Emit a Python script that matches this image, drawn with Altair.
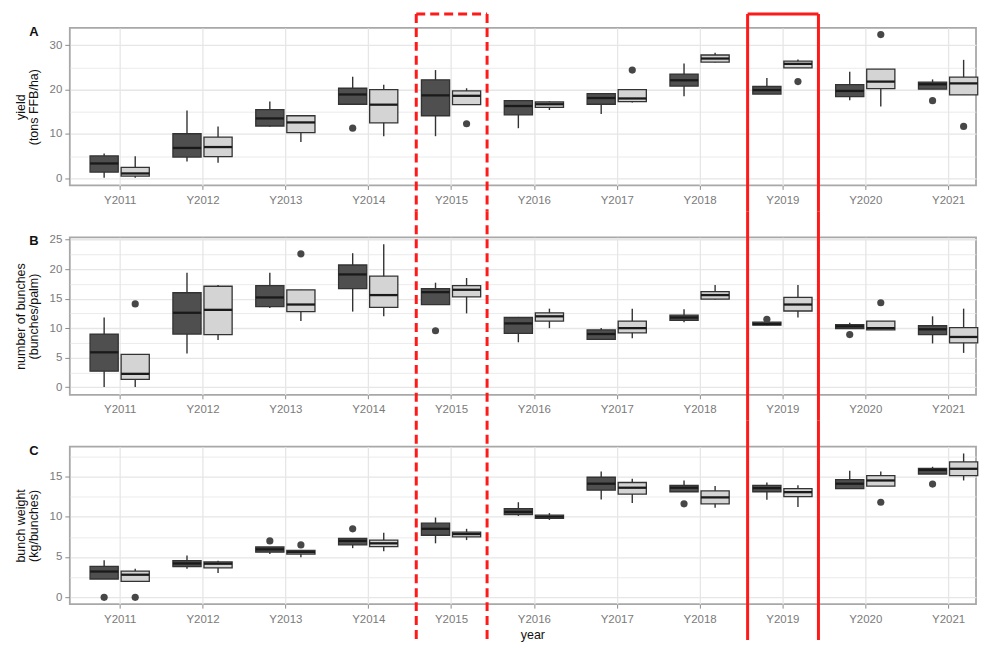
import altair as alt
import pandas as pd

years = ["Y2011", "Y2012", "Y2013", "Y2014", "Y2015", "Y2016",
         "Y2017", "Y2018", "Y2019", "Y2020", "Y2021"]
groups = ["dark", "light"]

# ---------------- Panel A: yield (tons FFB/ha) ----------------
yield_dark_lo = [0.15, 3.8, 11.6, 16.7, 9.5, 11.3, 14.5, 18.5, 19.0, 17.6, 20.1]
yield_dark_q1 = [1.4, 4.8, 11.8, 16.7, 14.1, 14.3, 16.7, 20.8, 19.0, 18.4, 20.1]
yield_dark_med = [3.35, 6.85, 13.5, 18.9, 18.7, 16.3, 18.1, 22.1, 19.9, 19.7, 21.2]
yield_dark_q3 = [5.05, 10.05, 15.5, 20.3, 22.2, 17.5, 19.1, 23.5, 20.7, 21.1, 21.7]
yield_dark_hi = [5.6, 15.3, 17.3, 22.9, 24.4, 17.5, 19.1, 25.9, 22.6, 24.0, 22.3]
yield_light_lo = [0.15, 3.5, 8.2, 9.5, 16.6, 15.4, 17.1, 26.1, 24.9, 16.2, 18.8]
yield_light_q1 = [0.5, 4.9, 10.3, 12.5, 16.6, 16.0, 17.3, 26.2, 24.9, 20.2, 18.8]
yield_light_med = [1.1, 7.05, 12.6, 16.6, 18.6, 16.7, 18.0, 27.0, 25.8, 21.8, 21.4]
yield_light_q3 = [2.45, 9.3, 14.1, 20.0, 19.7, 17.2, 20.0, 27.8, 26.4, 24.6, 22.8]
yield_light_hi = [5.0, 11.7, 14.1, 21.1, 20.3, 17.35, 20.0, 28.3, 26.8, 24.6, 26.7]
yield_out_year = ["Y2014", "Y2015", "Y2017", "Y2019", "Y2020", "Y2021", "Y2021"]
yield_out_grp = ["dark", "light", "light", "light", "light", "dark", "light"]
yield_out_val = [11.3, 12.3, 24.4, 21.8, 32.4, 17.5, 11.7]

# ---------------- Panel B: number of bunches ----------------
bunch_dark_lo = [0.0, 5.7, 13.4, 12.8, 14.0, 7.6, 8.1, 11.0, 10.5, 9.9, 7.4]
bunch_dark_q1 = [2.7, 9.0, 13.65, 16.7, 14.0, 9.1, 8.1, 11.3, 10.5, 9.9, 8.9]
bunch_dark_med = [5.9, 12.6, 15.2, 19.1, 16.1, 10.8, 9.0, 11.8, 10.7, 10.3, 9.8]
bunch_dark_q3 = [9.0, 16.0, 17.2, 20.7, 16.7, 11.8, 9.7, 12.2, 11.0, 10.6, 10.4]
bunch_dark_hi = [11.8, 19.4, 19.4, 22.7, 17.7, 11.9, 10.0, 13.2, 11.0, 10.9, 12.0]
bunch_light_lo = [0.0, 8.0, 11.2, 12.0, 12.5, 10.0, 8.3, 14.8, 11.8, 9.7, 5.8]
bunch_light_q1 = [1.3, 8.9, 12.8, 13.5, 15.3, 11.2, 9.2, 14.9, 12.9, 9.7, 7.5]
bunch_light_med = [2.25, 13.1, 14.0, 15.6, 16.5, 12.0, 10.0, 15.6, 14.0, 10.0, 8.5]
bunch_light_q3 = [5.56, 17.1, 16.5, 18.8, 17.2, 12.6, 11.2, 16.2, 15.2, 11.2, 10.1]
bunch_light_hi = [5.56, 17.3, 16.5, 24.2, 18.5, 13.3, 13.3, 17.3, 17.3, 11.2, 13.3]
bunch_out_year = ["Y2011", "Y2013", "Y2015", "Y2019", "Y2020", "Y2020"]
bunch_out_grp = ["light", "light", "dark", "dark", "dark", "light"]
bunch_out_val = [14.1, 22.6, 9.55, 11.5, 8.9, 14.3]

# ---------------- Panel C: bunch weight ----------------
bw_dark_lo = [2.27, 3.55, 5.37, 6.1, 6.7, 10.1, 12.15, 13.1, 12.1, 13.5, 15.3]
bw_dark_q1 = [2.27, 3.8, 5.6, 6.5, 7.7, 10.25, 13.3, 13.1, 13.1, 13.5, 15.3]
bw_dark_med = [3.2, 4.2, 5.95, 7.0, 8.5, 10.6, 14.1, 13.6, 13.55, 14.1, 15.8]
bw_dark_q3 = [3.84, 4.55, 6.24, 7.3, 9.2, 11.0, 14.9, 13.9, 13.9, 14.6, 16.0]
bw_dark_hi = [4.6, 5.2, 6.24, 7.3, 9.9, 11.8, 15.6, 14.5, 14.25, 15.7, 16.2]
bw_light_lo = [1.98, 3.0, 4.96, 5.7, 7.1, 9.6, 11.7, 11.1, 11.2, 13.8, 14.5]
bw_light_q1 = [1.98, 3.64, 5.37, 6.3, 7.5, 9.8, 12.8, 11.6, 12.5, 13.8, 15.1]
bw_light_med = [2.8, 4.17, 5.6, 6.7, 7.85, 10.0, 13.6, 12.4, 13.05, 14.5, 15.95]
bw_light_q3 = [3.26, 4.38, 5.83, 7.1, 8.1, 10.2, 14.25, 13.2, 13.5, 15.1, 16.8]
bw_light_hi = [3.55, 4.55, 5.83, 8.0, 8.5, 10.45, 14.7, 13.8, 13.9, 15.6, 17.85]
bw_out_year = ["Y2011", "Y2011", "Y2013", "Y2013", "Y2014", "Y2018", "Y2020", "Y2021"]
bw_out_grp = ["dark", "light", "dark", "light", "dark", "dark", "light", "dark"]
bw_out_val = [0.0, 0.0, 7.0, 6.5, 8.5, 11.6, 11.8, 14.05]

# highlighted years
hl_years = ["Y2015", "Y2019"]
hl_style = ["dashed", "solid"]

# axis tick values (major labelled, minor = grid only)
yA_major = [0, 10, 20, 30]
yA_minor = [5, 15, 25]
yB_major = [0, 5, 10, 15, 20, 25]
yB_minor = [2.5, 7.5, 12.5, 17.5, 22.5]
yC_major = [0, 5, 10, 15]
yC_minor = [2.5, 7.5, 12.5, 17.5]

FONT = "Liberation Sans"
W, H = 909, 158
X_DOMAIN = [0.398, 11.337]
DARK_FILL, LIGHT_FILL = "#4f4f4f", "#d4d4d4"
LINE = "#333333"
RED = "#ff1a1a"


def stats_df(d):
    rows = []
    for g, (lo, q1, med, q3, hi) in d.items():
        for i, y in enumerate(years):
            rows.append(dict(year=y, idx=i + 1, grp=g, lo=lo[i], q1=q1[i],
                             med=med[i], q3=q3[i], hi=hi[i]))
    return pd.DataFrame(rows)


def out_df(yrs, grps, vals):
    return pd.DataFrame(dict(year=yrs, idx=[years.index(y) + 1 for y in yrs],
                             grp=grps, val=vals))


label_expr = "[" + ",".join("'%s'" % y for y in years) + "][datum.value - 1]"


def panel(stats, outs, letter, ytitle, ydomain, ymajor, yminor, xtitle, red_top, red_bottom, draw_top):
    xs = alt.Scale(domain=X_DOMAIN, nice=False, zero=False)
    ys = alt.Scale(domain=ydomain, nice=False, zero=False)
    major_list = "[" + ",".join(str(v) for v in ymajor) + "]"
    test = "indexof(%s, datum.value) >= 0" % major_list
    yaxis = alt.Axis(
        values=sorted(ymajor + yminor), title=ytitle,
        labelExpr="(%s) ? datum.label : ''" % test,
        labelOverlap=False,
        tickOpacity={"condition": {"test": test, "value": 1}, "value": 0},
        gridWidth={"condition": {"test": test, "value": 1.3}, "value": 0.8},
        tickSize=5, labelPadding=3, titlePadding=9,
    )
    xaxis_kwargs = dict(values=list(range(1, 12)), labelExpr=label_expr, labelOverlap=False,
                        tickSize=4, labelPadding=5, gridWidth=1.3)
    if xtitle:
        xaxis = alt.Axis(title=xtitle, titleX=464, titlePadding=4, **xaxis_kwargs)
    else:
        xaxis = alt.Axis(title=None, **xaxis_kwargs)

    X = lambda f: alt.X(f, scale=xs, axis=xaxis)
    Y = lambda f: alt.Y(f, scale=ys, axis=yaxis)

    base = alt.Chart(stats).transform_calculate(
        xc="datum.idx + (datum.grp === 'dark' ? -0.1875 : 0.1875)"
    ).transform_calculate(
        xl="datum.xc - 0.17", xr="datum.xc + 0.17"
    )
    fill = alt.Color("grp:N", scale=alt.Scale(domain=groups, range=[DARK_FILL, LIGHT_FILL]), legend=None)

    whisk = base.mark_rule(color=LINE, strokeWidth=1.4).encode(
        x=X("xc:Q"), y=Y("lo:Q"), y2="hi:Q",
    )
    box = base.mark_rect(stroke=LINE, strokeWidth=1.3).encode(
        x=X("xl:Q"), x2="xr:Q", y=Y("q1:Q"), y2="q3:Q", fill=fill,
    )
    med = base.mark_rule(color="#1a1a1a", strokeWidth=2.3).encode(
        x=X("xl:Q"), x2="xr:Q", y=Y("med:Q"),
    )
    pts = alt.Chart(outs).transform_calculate(
        xc="datum.idx + (datum.grp === 'dark' ? -0.1875 : 0.1875)"
    ).mark_circle(size=52, color="#474747", opacity=1).encode(
        x=X("xc:Q"), y=Y("val:Q"),
    )
    lab = alt.Chart(pd.DataFrame({"letter": [letter]})).mark_text(
        font=FONT, fontWeight="bold", fontSize=13, color="#111111", align="center", baseline="middle"
    ).encode(text="letter:N", x=alt.value(-36), y=alt.value(4))

    hl = alt.Chart(pd.DataFrame({"year": hl_years, "style": hl_style,
                                 "idx": [years.index(y) + 1 for y in hl_years]})).transform_calculate(
        hl_l="datum.idx - 0.42", hl_r="datum.idx + 0.435"
    )
    dash = alt.StrokeDash("style:N", scale=alt.Scale(domain=["dashed", "solid"], range=[[9, 5], [1, 0]]), legend=None)
    left = hl.mark_rule(color=RED, strokeWidth=3).encode(
        x=X("hl_l:Q"), y=alt.value(red_top), y2=alt.value(red_bottom), strokeDash=dash)
    right = hl.mark_rule(color=RED, strokeWidth=3).encode(
        x=X("hl_r:Q"), y=alt.value(red_top), y2=alt.value(red_bottom), strokeDash=dash)
    layers = [whisk, box, med, pts, lab, left, right]
    if draw_top:
        top = hl.mark_rule(color=RED, strokeWidth=3).encode(
            x=X("hl_l:Q"), x2="hl_r:Q", y=alt.value(red_top), strokeDash=dash)
        layers.append(top)
    return alt.layer(*layers).properties(width=W, height=H)


pA = panel(
    stats_df({"dark": (yield_dark_lo, yield_dark_q1, yield_dark_med, yield_dark_q3, yield_dark_hi),
              "light": (yield_light_lo, yield_light_q1, yield_light_med, yield_light_q3, yield_light_hi)}),
    out_df(yield_out_year, yield_out_grp, yield_out_val),
    "A", ["yield", "(tons FFB/ha)"], [-1.6, 33.9], yA_major, yA_minor, None, -14, 184, True)
pB = panel(
    stats_df({"dark": (bunch_dark_lo, bunch_dark_q1, bunch_dark_med, bunch_dark_q3, bunch_dark_hi),
              "light": (bunch_light_lo, bunch_light_q1, bunch_light_med, bunch_light_q3, bunch_light_hi)}),
    out_df(bunch_out_year, bunch_out_grp, bunch_out_val),
    "B", ["number of bunches", "(bunches/palm)"], [-1.3, 25.4], yB_major, yB_minor, None, -26, 184, False)
pC = panel(
    stats_df({"dark": (bw_dark_lo, bw_dark_q1, bw_dark_med, bw_dark_q3, bw_dark_hi),
              "light": (bw_light_lo, bw_light_q1, bw_light_med, bw_light_q3, bw_light_hi)}),
    out_df(bw_out_year, bw_out_grp, bw_out_val),
    "C", ["bunch weight", "(kg/bunches)"], [-0.85, 18.7], yC_major, yC_minor, "year", -26, 194, False)

chart = alt.vconcat(pA, pB, pC, spacing=52, bounds="flush").properties(
    padding={"left": 5, "top": 2, "right": 0, "bottom": 0}
).configure_view(
    stroke="#a8a8a8", strokeWidth=1.8
).configure_axis(
    labelFont=FONT, titleFont=FONT, labelColor="#7a7a7a", labelFontSize=11.5,
    titleFontSize=12.5, titleFontWeight="normal", titleColor="#111111",
    tickColor="#8c8c8c", domain=False, gridColor="#e6e6e6", titleLineHeight=13,
)

chart.save("out.html", embed_options={"renderer": "svg", "actions": False})
